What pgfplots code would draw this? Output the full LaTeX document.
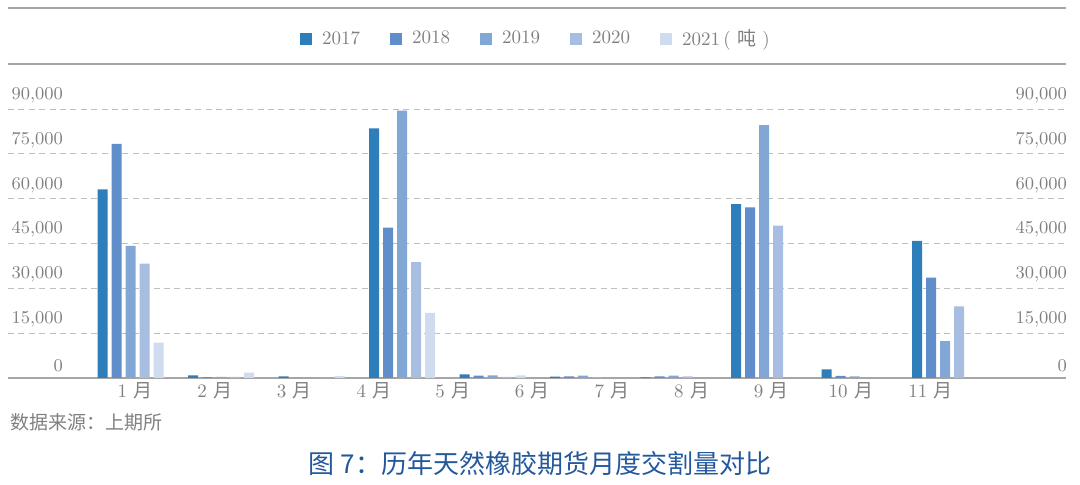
\documentclass[border=0pt]{standalone}
\usepackage{fontspec}
\usepackage{pgfplots}
\pgfplotsset{compat=1.18}
\newfontfamily\cjk{Noto Sans CJK SC}
\definecolor{c17}{HTML}{2F7EBC}
\definecolor{c18}{HTML}{5F8ECA}
\definecolor{c19}{HTML}{81A7D6}
\definecolor{c20}{HTML}{A7BDE2}
\definecolor{c21}{HTML}{CFDCF0}
\definecolor{txt}{HTML}{808080}
\definecolor{rulec}{HTML}{A6A6A6}
\definecolor{ttl}{HTML}{24589C}

\pgfplotsset{
  frame/.style={
    at={(4pt,53.5pt)}, anchor=south west,
    width=529pt, height=134.5pt, scale only axis,
    xmin=-1.354, xmax=10.337, ymin=0, ymax=90000,
    ytick={0,15000,...,90000},
    scaled y ticks=false,
    major tick length=0pt,
    y axis line style={draw=none},
  },
  numlab/.style={
    /pgf/number format/fixed,
    /pgf/number format/1000 sep={,},
    /pgf/number format/assume math mode=true,
    font=\fontsize{9}{11}\selectfont, text=txt,
  },
}

\begin{document}
\begin{tikzpicture}
\useasboundingbox (0,0) rectangle (540pt,242.5pt);
\draw[rulec, line width=0.6pt] (4pt,238.5pt) -- (533pt,238.5pt);
\draw[rulec, line width=0.6pt] (4pt,210.5pt) -- (533pt,210.5pt);

\begin{axis}[
  frame,
  ybar=2pt, bar width=5pt,
  axis x line*=bottom, axis y line*=left,
  x axis line style={-, draw=rulec, line width=0.6pt},
  ymajorgrids,
  major grid style={draw=gray!50, dash pattern=on 3pt off 2.2pt, line width=0.5pt},
  yticklabel style={numlab, anchor=south east, xshift=31pt, yshift=-0.5pt},
  xtick={0.05,0.93,1.81,2.69,3.56,4.44,5.32,6.20,7.08,7.96,8.84},
  xticklabels={1 {\cjk 月},2 {\cjk 月},3 {\cjk 月},4 {\cjk 月},5 {\cjk 月},6 {\cjk 月},7 {\cjk 月},8 {\cjk 月},9 {\cjk 月},10 {\cjk 月},11 {\cjk 月}},
  xticklabel style={font=\fontsize{9.5}{11}\selectfont, text=txt, yshift=1.5pt},
  legend style={at={(0.5,1.26)}, anchor=center, draw=none, fill=none,
    legend columns=-1, font=\fontsize{9.5}{11}\selectfont, text=txt,
    /tikz/every odd column/.append style={column sep=3pt},
    /tikz/every even column/.append style={column sep=13pt}},
  legend image code/.code={\fill[#1] (0pt,-3pt) rectangle (6pt,3pt);},
]
\addplot[fill=c17, draw=none] coordinates {
  (0,63100) (1,900) (2,550) (3,83500) (4,1200) (5,450) (6,200) (7,58200) (8,2900) (9,45900)};
\addlegendentry{2017}
\addplot[fill=c18, draw=none] coordinates {
  (0,78300) (1,300) (2,50) (3,50300) (4,800) (5,550) (6,500) (7,57100) (8,750) (9,33600)};
\addlegendentry{2018}
\addplot[fill=c19, draw=none] coordinates {
  (0,44200) (1,350) (2,150) (3,89500) (4,900) (5,800) (6,800) (7,84600) (8,550) (9,12300)};
\addlegendentry{2019}
\addplot[fill=c20, draw=none] coordinates {
  (0,38300) (1,350) (2,150) (3,38800) (4,350) (5,200) (6,500) (7,51000) (9,24000)};
\addlegendentry{2020}
\addplot[fill=c21, draw=none] coordinates {
  (0,11800) (1,1800) (2,600) (3,21800) (4,900)};
\addlegendentry{2021\,( {\cjk 吨} )}
\end{axis}

\begin{axis}[
  frame,
  hide x axis,
  axis y line*=right,
  yticklabel style={numlab, anchor=south east, xshift=4pt, yshift=-0.5pt},
]
\end{axis}

\node[anchor=west, inner sep=0pt, text=txt, font=\cjk\fontsize{9.5}{11}\selectfont]
  at (5pt,31.5pt) {数据来源：上期所};
\node[inner sep=0pt, text=ttl, font=\cjk\fontsize{13}{15}\selectfont]
  at (270pt,10.5pt) {图 7：历年天然橡胶期货月度交割量对比};
\end{tikzpicture}
\end{document}
